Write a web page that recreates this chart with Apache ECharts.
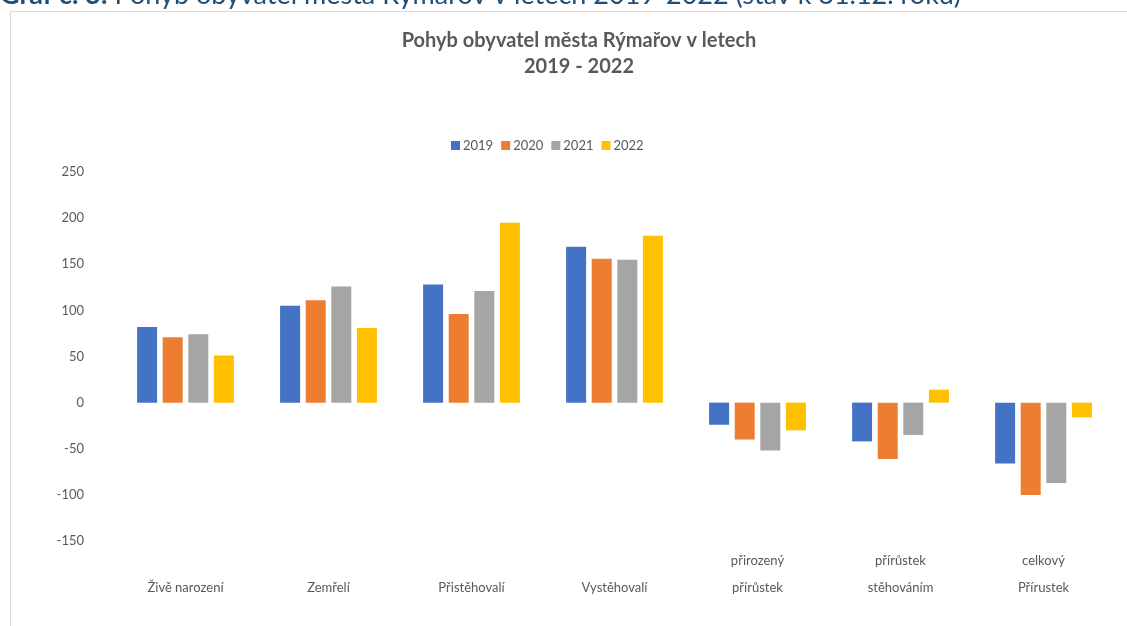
<!DOCTYPE html>
<html>
<head>
<meta charset="utf-8">
<script src="https://cdn.jsdelivr.net/npm/echarts@6/dist/echarts.min.js"></script>
<style>
  html, body { margin: 0; padding: 0; background: #fff; }
  #chart { width: 1127px; height: 626px; }
</style>
</head>
<body>
<div id="chart"></div>
<script>
// kategorie (jednořádkové popisky mají prázdný první řádek, aby seděly dole)
var categories = ['\nŽivě narození', '\nZemřelí', '\nPřistěhovalí', '\nVystěhovalí',
  'přirozený\npřírůstek', 'přírůstek\nstěhováním', 'celkový\nPřírustek'];
var years = ['2019', '2020', '2021', '2022'];
var data2019 = [82, 105, 128, 169, -24, -42, -66];
var data2020 = [71, 111, 96, 156, -40, -61, -100];
var data2021 = [74, 126, 121, 155, -52, -35, -87];
var data2022 = [51, 81, 195, 181, -30, 14, -16];
var colors = ['#4472C4', '#ED7D31', '#A5A5A5', '#FFC000'];

var font = 'Lato, "Open Sans", sans-serif';
var myChart = echarts.init(document.getElementById('chart'));

var seriesData = [data2019, data2020, data2021, data2022];
var series = years.map(function (y, i) {
  return {
    name: y,
    type: 'bar',
    data: seriesData[i],
    barWidth: 20,
    barGap: '28%',
    itemStyle: { color: colors[i] }
  };
});

var option = {
  animation: false,
  backgroundColor: '#fff',
  color: colors,
  graphic: [
    // rámeček grafu
    { type: 'line', shape: { x1: 10.5, y1: 11.5, x2: 1127, y2: 11.5 }, style: { stroke: '#d9d9d9', lineWidth: 1 } },
    { type: 'line', shape: { x1: 10.5, y1: 11.5, x2: 10.5, y2: 626 }, style: { stroke: '#d9d9d9', lineWidth: 1 } },
    // oříznutý popisek nad grafem
    {
      type: 'text', left: 0, top: -18,
      style: {
        text: '{b|Graf č. 3:} Pohyb obyvatel města Rýmařov v letech 2019-2022 (stav k 31.12. roku)',
        fill: '#1F4E79',
        font: '27px ' + font,
        rich: { b: { fontWeight: 'bold', fontSize: 27, fontFamily: font, fill: '#1F4E79' } }
      }
    }
  ],
  title: {
    text: 'Pohyb obyvatel města Rýmařov v letech\n2019 - 2022',
    left: 574,
    textAlign: 'center',
    top: 23,
    textStyle: {
      color: '#595959',
      fontFamily: font,
      fontWeight: 'bold',
      fontSize: 20,
      lineHeight: 26
    }
  },
  legend: {
    data: years,
    top: 134,
    left: 446,
    itemWidth: 9,
    itemHeight: 9,
    itemGap: 8,
    icon: 'rect',
    textStyle: { color: '#595959', fontFamily: font, fontSize: 13, padding: [0, 0, 0, -2] }
  },
  grid: {
    left: 114,
    right: 12,
    top: 172,
    bottom: 85,
    containLabel: false
  },
  xAxis: {
    type: 'category',
    data: categories,
    axisLine: { show: false, onZero: false },
    axisTick: { show: false },
    splitLine: { show: false },
    axisLabel: {
      interval: 0,
      color: '#595959',
      fontFamily: font,
      fontSize: 13,
      lineHeight: 27,
      margin: 6
    }
  },
  yAxis: {
    type: 'value',
    min: -150,
    max: 250,
    interval: 50,
    axisLine: { show: false },
    axisTick: { show: false },
    splitLine: { show: false },
    axisLabel: {
      color: '#595959',
      fontFamily: font,
      fontSize: 13,
      margin: 30
    }
  },
  series: series
};

myChart.setOption(option);
window.addEventListener('resize', function () {
  myChart.resize();
});
</script>
</body>
</html>
